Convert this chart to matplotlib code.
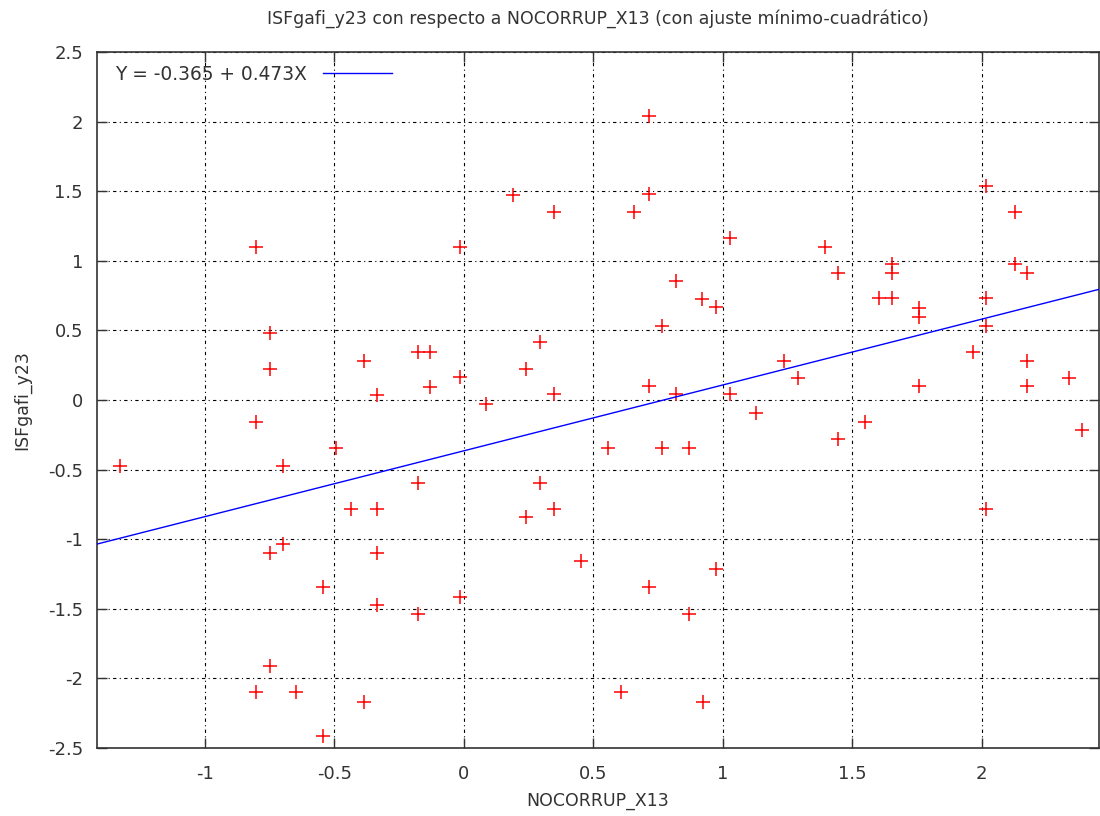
import matplotlib
matplotlib.use("Agg")
import matplotlib.pyplot as plt
import numpy as np

# scatter data
nocorrup_x13 = [
    -1.326, -0.804, -0.804, -0.804, -0.749, -0.749, -0.749, -0.749, -0.700, -0.700,
    -0.646, -0.543, -0.543, -0.492, -0.437, -0.386, -0.385, -0.335, -0.335, -0.335,
    -0.335, -0.176, -0.176, -0.176, -0.129, -0.129, -0.015, -0.015, -0.015, 0.085,
    0.190, 0.241, 0.241, 0.293, 0.293, 0.349, 0.349, 0.349, 0.453, 0.555,
    0.606, 0.656, 0.714, 0.714, 0.714, 0.714, 0.764, 0.764, 0.819, 0.819,
    0.870, 0.870, 0.921, 0.924, 0.973, 0.973, 1.027, 1.027, 1.130, 1.236,
    1.291, 1.394, 1.444, 1.444, 1.548, 1.602, 1.655, 1.655, 1.655, 1.758,
    1.758, 1.758, 1.964, 2.018, 2.018, 2.018, 2.018, 2.127, 2.127, 2.175,
    2.175, 2.175, 2.335, 2.385,
]
isfgafi_y23 = [
    -0.474, 1.100, -0.160, -2.100, 0.479, 0.220, -1.100, -1.910, -0.474, -1.034,
    -2.100, -1.345, -2.417, -0.342, -0.782, 0.282, -2.166, 0.036, -0.782, -1.100,
    -1.472, 0.347, -0.594, -1.536, 0.347, 0.096, 1.100, 0.163, -1.412, -0.030,
    1.470, 0.222, -0.842, 0.414, -0.598, 1.350, 0.040, -0.782, -1.160, -0.342,
    -2.100, 1.350, 2.040, 1.480, 0.100, -1.345, 0.533, -0.342, 0.856, 0.040,
    -0.342, -1.536, 0.727, -2.166, 0.665, -1.216, 1.165, 0.040, -0.096, 0.282,
    0.160, 1.100, 0.909, -0.280, -0.160, 0.730, 0.976, 0.909, 0.730, 0.663,
    0.598, 0.100, 0.347, 1.536, 0.730, 0.533, -0.782, 1.352, 0.976, 0.909,
    0.282, 0.100, 0.160, -0.215,
]

# least squares fit as printed in the legend
intercept = -0.365
slope = 0.473

x_ticks = [-1, -0.5, 0, 0.5, 1, 1.5, 2]
x_tick_labels = ["-1", "-0.5", "0", "0.5", "1", "1.5", "2"]
y_ticks = [-2.5, -2, -1.5, -1, -0.5, 0, 0.5, 1, 1.5, 2, 2.5]
y_tick_labels = ["-2.5", "-2", "-1.5", "-1", "-0.5", "0", "0.5", "1", "1.5", "2", "2.5"]

plt.rcParams["font.family"] = ["DejaVu Sans"]
txt_col = "#333333"

fig = plt.figure(figsize=(11, 8.16), dpi=100)
ax = fig.add_axes([0.088, 0.0833, 0.911, 0.853])

xmin, xmax = -1.417, 2.452
ax.set_xlim(xmin, xmax)
ax.set_ylim(-2.5, 2.5)

ax.plot(nocorrup_x13, isfgafi_y23, linestyle="none", marker="+", color="#ff0000",
        markersize=10.5, markeredgewidth=1.1, zorder=3)

xs = np.array([xmin, xmax])
ax.plot(xs, intercept + slope * xs, color="#0000ff", linewidth=1.0, zorder=4,
        label="Y = %.3f + %.3fX" % (intercept, slope))

ax.set_xticks(x_ticks)
ax.set_xticklabels(x_tick_labels)
ax.set_yticks(y_ticks)
ax.set_yticklabels(y_tick_labels)
ax.tick_params(direction="in", length=7, width=1, labelsize=13, colors=txt_col,
               top=True, right=True, pad=10)
ax.tick_params(axis="x", pad=12)

ax.grid(True, color="black", linewidth=0.8, linestyle=(0, (1, 3, 3, 3)))
for sp in ax.spines.values():
    sp.set_color("#333333")
    sp.set_linewidth(1.2)

ax.set_title("ISFgafi_y23 con respecto a NOCORRUP_X13 (con ajuste mínimo-cuadrático)",
             fontsize=12.5, color=txt_col, pad=20)
ax.set_xlabel("NOCORRUP_X13", fontsize=12.5, color=txt_col, labelpad=7)
ax.set_ylabel("ISFgafi_y23", fontsize=12.5, color=txt_col, labelpad=12)

leg = ax.legend(loc="upper left", frameon=False, markerfirst=False, fontsize=13.4,
                handlelength=3.7, borderaxespad=0.2, borderpad=0.5,
                handletextpad=0.9, bbox_to_anchor=(0.005, 1.0))
for t in leg.get_texts():
    t.set_color(txt_col)

fig.savefig("out.png", dpi=100)
